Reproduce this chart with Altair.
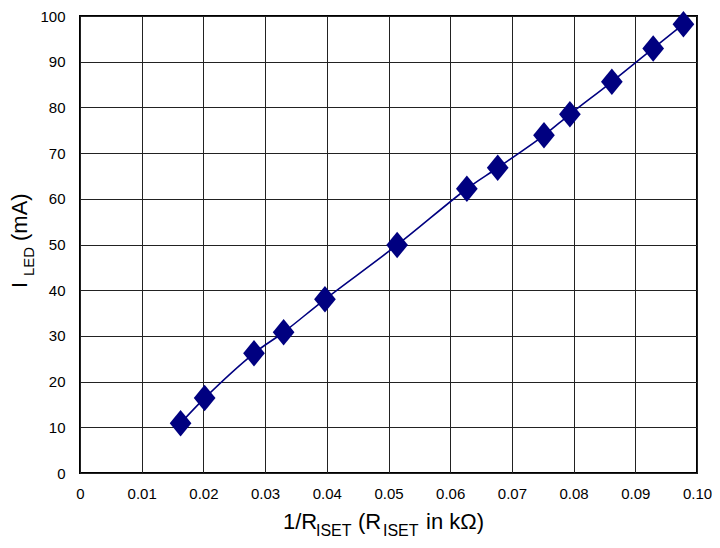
import altair as alt
import pandas as pd

# 1/R_ISET (1/kΩ) and I_LED (mA)
inv_riset = [0.0163, 0.0202, 0.0282, 0.0330, 0.0397, 0.0514, 0.0627,
             0.0677, 0.0752, 0.0794, 0.0862, 0.0929, 0.0978]
i_led = [10.9, 16.4, 26.2, 30.8, 38.0, 49.9, 62.2, 66.8, 73.9, 78.5,
         85.6, 92.9, 98.2]
x_ticks = [0, 0.01, 0.02, 0.03, 0.04, 0.05, 0.06, 0.07, 0.08, 0.09, 0.10]
y_ticks = [0, 10, 20, 30, 40, 50, 60, 70, 80, 90, 100]

df = pd.DataFrame({"x": inv_riset, "y": i_led})

NAVY = "#000080"
FONT = "Liberation Sans"

xs = alt.X("x:Q", scale=alt.Scale(domain=[0, 0.1], nice=False, zero=False),
           axis=alt.Axis(values=x_ticks, title=None, ticks=False, domain=False,
                         labelExpr="datum.value == 0 ? '0' : format(datum.value, '.2f')",
                         labelPadding=13, labelFontSize=15, labelFont=FONT,
                         labelColor="black", gridColor="#222222", gridWidth=1,
                         gridOpacity=1, labelFlush=False))
ys = alt.Y("y:Q", scale=alt.Scale(domain=[0, 100], nice=False),
           axis=alt.Axis(values=y_ticks, title=None, ticks=False, domain=False,
                         labelPadding=15, labelFontSize=15, labelFont=FONT,
                         labelColor="black", gridColor="#222222", gridWidth=1,
                         gridOpacity=1, labelFlush=False))

base = alt.Chart(df)
line = base.mark_line(color=NAVY, strokeWidth=1.6, interpolate="catmull-rom").encode(x=xs, y=ys)
pts = base.mark_point(shape="M0,-1L0.82,0L0,1L-0.82,0Z", filled=True, color=NAVY,
                      opacity=1, size=700).encode(x="x:Q", y="y:Q")

one = alt.Data(values=[{"a": 1}])
OX, OY = 80, 16  # plot origin on page


def txt(s, px, py, size, angle=0):
    kw = dict(align="left", baseline="alphabetic", fontSize=size, font=FONT, color="black")
    if angle:
        kw["angle"] = angle
    return alt.Chart(one).mark_text(**kw).encode(
        x=alt.value(px - OX), y=alt.value(py - OY), text=alt.value(s))


titles = [
    txt("1/R", 283, 529, 22),
    txt("ISET", 316, 536, 16),
    txt("(R", 358, 529, 22),
    txt("ISET", 383, 536, 16),
    txt("in kΩ)", 426, 529, 22),
    txt("I", 27, 288, 22, 270),
    txt("LED", 34, 276, 15, 270),
    txt("(mA)", 27, 241, 22, 270),
]

chart = alt.layer(line, pts, *titles).properties(
    width=617, height=457,
    autosize=alt.AutoSizeParams(type="none"),
    padding={"left": 72, "top": 8, "right": 15, "bottom": 67},
).configure_view(stroke="black", strokeWidth=2)

chart.save("out.html", embed_options={"renderer": "svg", "actions": False})
